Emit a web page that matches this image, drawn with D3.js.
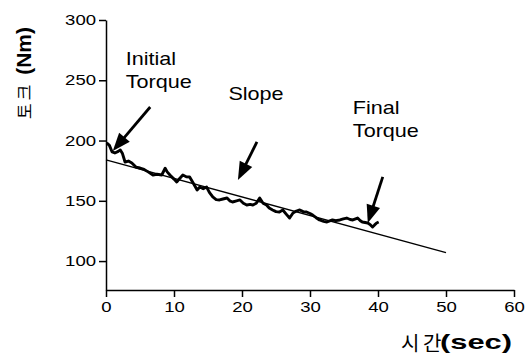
<!DOCTYPE html>
<html>
<head>
<meta charset="utf-8">
<script src="https://cdn.jsdelivr.net/npm/d3@7"></script>
<style>
  body { margin:0; background:#fff; }
  text { font-family: 'Liberation Sans', Arial, sans-serif; fill:#000; }
  .tick text { font-size:14.5px; }
  .tick line, .domain { stroke:#000; stroke-width:1.5; }
</style>
</head>
<body>
<div class="page"></div>
<script>
// torque trace (time in sec, torque in Nm)
var times = [0.1,0.5,0.9,1.3,1.8,2.1,2.4,2.8,3.3,3.8,4.4,5.0,5.6,6.2,6.9,7.5,8.2,8.7,9.0,9.4,
  10.0,10.4,10.9,11.3,11.8,12.3,12.8,13.4,13.8,14.3,14.8,15.2,15.7,16.2,16.7,17.2,17.8,18.2,18.6,19.2,
  19.7,20.2,20.7,21.2,21.6,22.1,22.6,23.1,23.6,24.0,24.5,25.0,25.5,26.0,26.5,27.0,27.5,28.0,28.5,29.0,
  29.5,30.0,30.4,30.9,31.4,32.0,32.5,33.0,33.3,33.8,34.4,34.9,35.4,35.9,36.3,36.7,37.0,37.4,37.7,38.1,
  38.5,38.9,39.2,39.5,39.8,40.1];
var torque = [198,196,190.5,189.7,191,192.2,189.5,182.2,183,181.4,178,177.2,176,174,171.4,172,171.4,177,174,171.4,
  168,165.6,169,171.4,170,169.8,165,159,161.4,160,161.4,157,153.2,151,150.7,151.5,152.3,150,149,150,
  150.7,148,146.5,147,146.5,148,152.3,148,146.5,144,142.4,141,140.7,142.4,139,135.7,139.9,141.5,142.4,141,
  140.7,139.5,138.2,136,134.1,133,132.4,133.5,134.1,133.5,134.1,135,135.7,134.5,134.1,135,135.7,133.5,132.4,132,
  131.6,130,128.3,130,131.6,132.4];
var slopeTimes = [0, 50];
var slopeTorque = [184, 107];
var xTicks = [0, 10, 20, 30, 40, 50, 60];
var yTicks = [100, 150, 200, 250, 300];
var annoLabels = [['Initial', 'Torque'], ['Slope'], ['Final', 'Torque']];
var annoText = [[2.9, 263], [18.0, 234], [36.3, 222]];   // [sec, Nm] of first text baseline
var annoTail = [[6.5, 227.8], [22.2, 198.8], [40.7, 169.8]];
var annoTip = [[1.0, 191.3], [19.4, 167.3], [38.5, 131.6]];

var W = 527, H = 361, sx = 1.28;
var x = d3.scaleLinear().domain([0, 60]).range([106, 514]);
var y = d3.scaleLinear().domain([76, 300]).range([290, 20]);

var svg = d3.select('.page').append('svg')
  .attr('width', W).attr('height', H);

var gx = svg.append('g')
  .attr('transform', 'translate(0,' + y(76) + ')')
  .call(d3.axisBottom(x).tickValues(xTicks).tickSize(7).tickSizeOuter(0).tickPadding(5));
gx.selectAll('.tick text').attr('transform', 'scale(' + sx + ',1)');

var gy = svg.append('g')
  .attr('transform', 'translate(' + x(0) + ',0)')
  .call(d3.axisLeft(y).tickValues(yTicks).tickSize(7).tickSizeOuter(0).tickPadding(3));
gy.selectAll('.tick text').attr('x', -10 / sx).attr('transform', 'scale(' + sx + ',1)');

svg.selectAll('.tick text').attr('font-family', null);

// slope line
var line = d3.line().x(function(d) { return x(d[0]); }).y(function(d) { return y(d[1]); });
svg.append('path')
  .datum(d3.zip(slopeTimes, slopeTorque))
  .attr('d', line)
  .attr('fill', 'none').attr('stroke', '#000').attr('stroke-width', 1.4);

// torque trace
svg.append('path')
  .datum(d3.zip(times, torque))
  .attr('d', line)
  .attr('fill', 'none').attr('stroke', '#000').attr('stroke-width', 2.9)
  .attr('stroke-linejoin', 'round');

// annotations
annoLabels.forEach(function(lines, i) {
  var t = svg.append('g')
    .attr('transform', 'translate(' + x(annoText[i][0]) + ',' + y(annoText[i][1]) + ') scale(1.2,1)')
    .append('text')
    .style('font-size', '18px');
  lines.forEach(function(s, j) {
    t.append('tspan').attr('x', 0).attr('dy', j ? 23 : 0).text(s);
  });

  var x0 = x(annoTail[i][0]), y0 = y(annoTail[i][1]),
      x1 = x(annoTip[i][0]), y1 = y(annoTip[i][1]);
  var dx = x1 - x0, dy = y1 - y0, len = Math.sqrt(dx*dx + dy*dy),
      ux = dx/len, uy = dy/len, hl = 18, hw = 7;
  svg.append('line')
    .attr('x1', x0).attr('y1', y0)
    .attr('x2', x1 - ux*hl*0.8).attr('y2', y1 - uy*hl*0.8)
    .attr('stroke', '#000').attr('stroke-width', 2.8);
  svg.append('polygon')
    .attr('points', [
      [x1, y1],
      [x1 - ux*hl - uy*hw, y1 - uy*hl + ux*hw],
      [x1 - ux*hl + uy*hw, y1 - uy*hl - ux*hw]
    ].map(function(p) { return p.join(','); }).join(' '))
    .attr('fill', '#000');
});

// axis titles
svg.append('text')
  .attr('transform', 'translate(31,73) rotate(-90)')
  .attr('text-anchor', 'middle')
  .style('font-size', '21px').style('font-weight', 'bold')
  .html('<tspan style="font-family:\'Noto Sans CJK KR\'; font-weight:normal; font-size:17px; letter-spacing:3px">토크 </tspan>(Nm)');

svg.append('text')
  .attr('x', 401).attr('y', 351)
  .style('font-family', "'Noto Sans CJK KR'")
  .style('font-size', '20px')
  .text('시');
svg.append('text')
  .attr('x', 423).attr('y', 351)
  .style('font-family', "'Noto Sans CJK KR'")
  .style('font-size', '20px')
  .text('간');
svg.append('g')
  .attr('transform', 'translate(440,349) scale(1.47,1)')
  .append('text')
  .style('font-size', '21px').style('font-weight', 'bold')
  .text('(sec)');
</script>
</body>
</html>
